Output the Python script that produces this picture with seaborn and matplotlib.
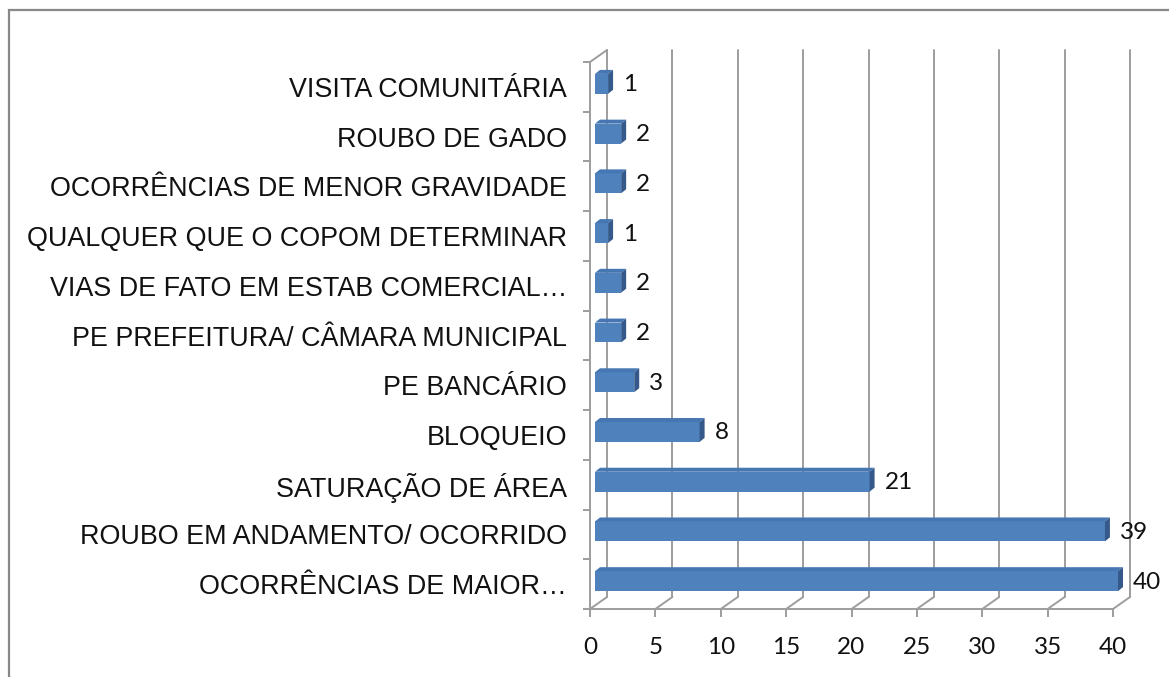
import matplotlib
matplotlib.use("Agg")
import matplotlib.pyplot as plt
import seaborn as sns
import pandas as pd
import numpy as np
from matplotlib.transforms import ScaledTranslation
from matplotlib.patches import Polygon, Rectangle
from matplotlib.lines import Line2D

categories = [
    "VISITA COMUNITÁRIA",
    "ROUBO DE GADO",
    "OCORRÊNCIAS DE MENOR GRAVIDADE",
    "QUALQUER QUE O COPOM DETERMINAR",
    "VIAS DE FATO EM ESTAB COMERCIAL…",
    "PE PREFEITURA/ CÂMARA MUNICIPAL",
    "PE BANCÁRIO",
    "BLOQUEIO",
    "SATURAÇÃO DE ÁREA",
    "ROUBO EM ANDAMENTO/ OCORRIDO",
    "OCORRÊNCIAS DE MAIOR…",
]
values = [1, 2, 2, 1, 2, 2, 3, 8, 21, 39, 40]
x_ticks = [0, 5, 10, 15, 20, 25, 30, 35, 40]

df = pd.DataFrame({"categoria": categories, "total": values})

sns.set_theme(style="white")
plt.rcParams["font.family"] = ["Liberation Sans", "DejaVu Sans"]

DPI = 100
W, H = 1169, 677
fig = plt.figure(figsize=(W / DPI, H / DPI), dpi=DPI)
fig.patch.set_facecolor("white")

# front plane of the 3D box, in pixels
left_px, right_px, top_px, bottom_px = 590, 1113, 62, 609
ax = fig.add_axes([left_px / W, 1 - bottom_px / H,
                   (right_px - left_px) / W, (bottom_px - top_px) / H])

front = "#4f81bd"
top_face = "#4677b2"
side_face = "#34598a"
grid_c = "#9d9d9d"
glw = 1.4

sns.barplot(data=df, x="total", y="categoria", order=categories,
            orient="h", width=0.40, color=front, saturation=1,
            linewidth=0, ax=ax, zorder=3)
ax.set_xlim(0, 40)
ax.set_ylim(10.5, -0.5)
ax.set_xlabel("")
ax.set_ylabel("")
ax.set_facecolor("none")

def px_offset(dx, dy):
    return ScaledTranslation(dx / DPI, dy / DPI, fig.dpi_scale_trans)

# depth of the walls and of the bars (pixels)
wall_dx, wall_dy = 17, 12
bar_shift = (5, 3)
bar_dx, bar_dy = 5, 4

to_axes = ax.transAxes.inverted()

# back wall gridlines
back_tr = ax.transData + px_offset(wall_dx, wall_dy)
for v in x_ticks:
    ax.add_line(Line2D([v, v], [10.5, -0.5], transform=back_tr, color=grid_c,
                       lw=glw, clip_on=False, zorder=1))

# floor lines and left-wall top edge
def disp_line(p0, p1):
    a = to_axes.transform(p0)
    b = to_axes.transform(p1)
    ax.add_line(Line2D([a[0], b[0]], [a[1], b[1]], transform=ax.transAxes,
                       color=grid_c, lw=glw, clip_on=False, zorder=1))

for v in x_ticks:
    p = ax.transData.transform((v, 10.5))
    disp_line(p, p + np.array([wall_dx, wall_dy]))
p = ax.transData.transform((0, -0.5))
disp_line(p, p + np.array([wall_dx, wall_dy]))

# bars: shift front faces into the box and add top / side faces
shift_tr = ax.transData + px_offset(*bar_shift)
bars = [p for p in ax.patches if isinstance(p, Rectangle)]
for bar, val in zip(bars, values):
    bar.set_transform(shift_tr)
    bar.set_clip_on(False)
    x0, y0 = bar.get_x(), bar.get_y()
    x1, y1 = x0 + bar.get_width(), y0 + bar.get_height()
    a = shift_tr.transform((x0, y0))
    b = shift_tr.transform((x1, y1))
    xl, xr = a[0], b[0]
    ytop, ybot = max(a[1], b[1]), min(a[1], b[1])
    top_pts = [(xl, ytop), (xr, ytop), (xr + bar_dx, ytop + bar_dy), (xl + bar_dx, ytop + bar_dy)]
    side_pts = [(xr, ybot), (xr, ytop), (xr + bar_dx, ytop + bar_dy), (xr + bar_dx, ybot + bar_dy)]
    for pts, col in ((top_pts, top_face), (side_pts, side_face)):
        ax.add_patch(Polygon(to_axes.transform(pts), closed=True, transform=ax.transAxes,
                             facecolor=col, edgecolor="none", clip_on=False, zorder=3))
    # value label
    ax.text(val, bar.get_y() + bar.get_height() / 2, f"{val}",
            transform=ax.transData + px_offset(20, 2),
            ha="left", va="center", fontsize=17.5, family=["Lato", "DejaVu Sans"],
            color="#111111", clip_on=False, zorder=4)

# spines
for s in ("top", "right"):
    ax.spines[s].set_visible(False)
for s in ("left", "bottom"):
    ax.spines[s].set_color(grid_c)
    ax.spines[s].set_linewidth(glw)

# ticks
ax.set_xticks(x_ticks)
ax.set_xticklabels([str(t) for t in x_ticks], family=["Lato", "DejaVu Sans"],
                   fontsize=17.5, color="#111111")
ax.tick_params(axis="x", which="major", bottom=True, length=5.8, width=glw,
               color=grid_c, pad=14)
ax.set_yticks(range(len(categories)))
ax.set_yticklabels(categories, fontsize=19.4, color="#111111",
                   family=["Liberation Sans", "DejaVu Sans"])
ax.tick_params(axis="y", which="major", left=False, length=0, pad=16.5)
ax.set_yticks(np.arange(-0.5, len(categories), 1.0), minor=True)
ax.tick_params(axis="y", which="minor", left=True, length=5, width=glw, color=grid_c)
ax.grid(False)

# outer chart border
fig.add_artist(Rectangle((9 / W, -0.05), 1.2, 1 - 10 / H + 0.05, transform=fig.transFigure,
                         fill=False, edgecolor="#888888", lw=1.6))

fig.savefig("out.png", dpi=DPI)
